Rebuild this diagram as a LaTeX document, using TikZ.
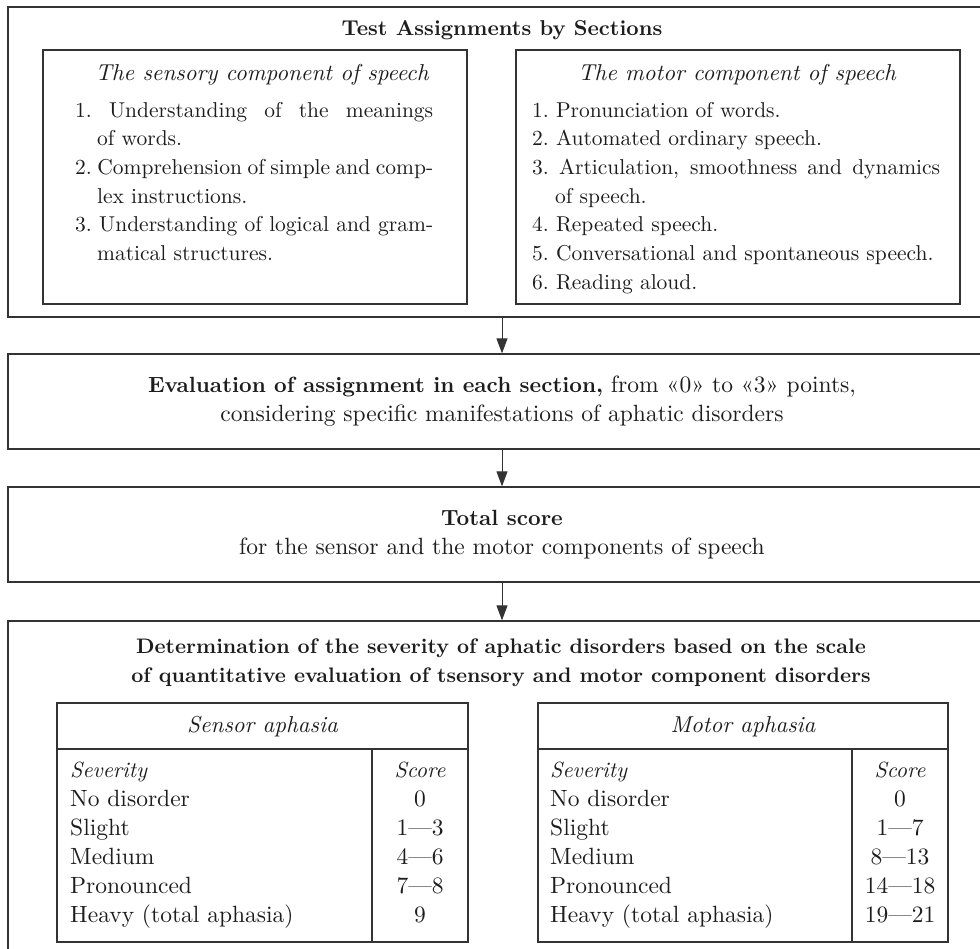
\documentclass[tikz,border=0pt]{standalone}
\usepackage{fontspec}
\setmainfont{lmroman10}[Extension=.otf, UprightFont=*-regular, BoldFont=*-bold, ItalicFont=*-italic, BoldItalicFont=*-bolditalic]
\usetikzlibrary{arrows.meta}
\newcommand{\listfs}{\fontsize{21.5}{28.7}\selectfont}
\newcommand{\bodyfs}{\fontsize{23.5}{29}\selectfont}
\newcommand{\boldfs}{\fontsize{22}{29}\selectfont\bfseries}
\newcommand{\headfs}{\fontsize{23}{29}\selectfont\itshape}
\newcommand{\itfs}{\fontsize{22}{29}\selectfont\itshape}
\definecolor{ink}{HTML}{1E1C1C}
\definecolor{linec}{HTML}{333333}
\tikzset{
  frame/.style={draw=linec, line width=1.3pt, inner sep=0pt},
  rule/.style={draw=linec, line width=1.3pt},
  arr/.style={draw=linec, line width=1pt, -{Triangle[length=15pt,width=11pt]}},
  txt/.style={inner sep=0pt, text=ink},
}
\begin{document}
\begin{tikzpicture}[x=1pt,y=-1pt, every node/.style={font=\bodyfs}]
\useasboundingbox (0,0) rectangle (980,948);
\clip (0,0) rectangle (980,948);

% ---------- Box 1 ----------
\node[frame, minimum width=988pt, minimum height=310pt] (b1) at (502,162) {};
\node[txt, anchor=base, font=\fontsize{21.5}{29}\selectfont\bfseries] (t1) at (502,35) {Test Assignments by Sections};
\node[frame, minimum width=424pt, minimum height=254pt] (sA) at (255,177) {};
\node[frame, minimum width=444pt, minimum height=254pt] (sB) at (738,177) {};
\node[txt, anchor=base, font=\headfs] (hA) at (262,80) {The sensory component of speech};
\node[txt, anchor=base, font=\headfs] (hB) at (737,80) {The motor component of speech};
\node[txt, anchor=base west, text width=358pt, align=justify, font=\listfs] (lA) at (75,117) {\parindent=0pt\tolerance=9999\hbadness=10000
\hangindent=22pt\hangafter=1 1.\ Understanding of the meanings\linebreak of words.\par
\hangindent=22pt\hangafter=1 2.\ Comprehension of simple and comp-\linebreak lex instructions.\par
\hangindent=22pt\hangafter=1 3.\ Understanding of logical and gram-\linebreak matical structures.\par};
\node[txt, anchor=base west, text width=408pt, align=justify, font=\listfs] (lB) at (532,117) {\parindent=0pt\tolerance=9999\hbadness=10000
\hangindent=23pt\hangafter=1 1.\ Pronunciation of words.\par
\hangindent=23pt\hangafter=1 2.\ Automated ordinary speech.\par
\hangindent=23pt\hangafter=1 3.\ Articulation, smoothness and dynamics\linebreak of speech.\par
\hangindent=23pt\hangafter=1 4.\ Repeated speech.\par
\hangindent=23pt\hangafter=1 5.\ Conversational and spontaneous speech.\par
\hangindent=23pt\hangafter=1 6.\ Reading aloud.\par};

% ---------- Box 2 ----------
\node[frame, minimum width=988pt, minimum height=95pt, align=center, text=ink] (b2) at (502,401.5)
  {{\boldfs Evaluation of assignment in each section,} from «0» to «3» points,\\
   considering specific manifestations of aphatic disorders};

% ---------- Box 3 ----------
\node[frame, minimum width=988pt, minimum height=95pt, align=center, text=ink] (b3) at (502,534.5)
  {{\boldfs Total score}\\ for the sensor and the motor components of speech};

% ---------- Box 4 ----------
\node[frame, minimum width=988pt, minimum height=344pt] (b4) at (502,793) {};
\node[txt, anchor=base, align=center, font=\fontsize{21}{29}\selectfont\bfseries] (t4) at (501,682)
  {Determination of the severity of aphatic disorders based on the scale\\
   of quantitative evaluation of tsensory and motor component disorders};

% Table A
\node[frame, minimum width=411pt, minimum height=239pt] (tA) at (262.5,822.5) {};
\draw[rule] (57,749) -- (468,749);
\draw[rule] (372,749) -- (372,942);
\node[txt, anchor=base, font=\headfs] (tAh) at (262.5,732) {Sensor aphasia};
\node[txt, anchor=base west, align=left] (tAs) at (70,922)
  {{\itfs Severity}\\ No disorder\\ Slight\\ Medium\\ Pronounced\\ Heavy (total aphasia)};
\node[txt, anchor=base, align=center] (tAc) at (420,922)
  {{\itfs Score}\\ 0\\ 1---3\\ 4---6\\ 7---8\\ 9};

% Table B
\node[frame, minimum width=410pt, minimum height=239pt] (tB) at (743,822.5) {};
\draw[rule] (538,749) -- (948,749);
\draw[rule] (852,749) -- (852,942);
\node[txt, anchor=base, font=\headfs] (tBh) at (743,732) {Motor aphasia};
\node[txt, anchor=base west, align=left] (tBs) at (550,922)
  {{\itfs Severity}\\ No disorder\\ Slight\\ Medium\\ Pronounced\\ Heavy (total aphasia)};
\node[txt, anchor=base, align=center] (tBc) at (900,922)
  {{\itfs Score}\\ 0\\ 1---7\\ 8---13\\ 14---18\\ 19---21};

% ---------- Arrows ----------
\draw[arr] (b1.south) -- (b2.north);
\draw[arr] (b2.south) -- (b3.north);
\draw[arr] (b3.south) -- (b4.north);
\end{tikzpicture}
\end{document}
